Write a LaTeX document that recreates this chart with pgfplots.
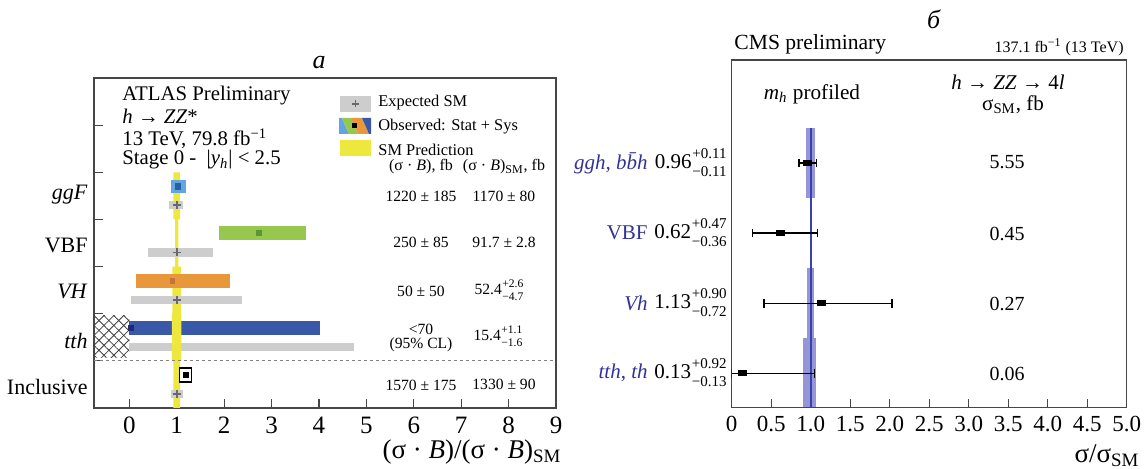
\documentclass[border=0pt]{standalone}
\usepackage{pgfplots}
\pgfplotsset{compat=1.18}
\usepackage{fontspec}
\setmainfont{Liberation Serif}
\usetikzlibrary{patterns.meta}
\definecolor{cGray}{RGB}{205,205,205}
\definecolor{cGrayMk}{RGB}{105,105,105}
\definecolor{cYellow}{RGB}{238,232,62}
\definecolor{cLBlue}{RGB}{100,165,225}
\definecolor{cLBlueMk}{RGB}{40,95,160}
\definecolor{cGreen}{RGB}{150,200,80}
\definecolor{cGreenMk}{RGB}{90,150,50}
\definecolor{cOrange}{RGB}{232,152,58}
\definecolor{cOrangeMk}{RGB}{195,115,60}
\definecolor{cDBlue}{RGB}{58,88,168}
\definecolor{cDBlueMk}{RGB}{30,40,120}
\definecolor{cLine}{RGB}{55,65,175}
\definecolor{cBand}{RGB}{150,150,215}
\definecolor{cText}{RGB}{50,50,150}
\definecolor{cAxis}{RGB}{70,70,70}
\newcommand{\fs}[1]{\fontsize{#1}{#1}\selectfont}
\newcommand{\ud}[3]{#1\kern0.04em\begin{tabular}[c]{@{}l@{}}\fs{7.5}#2\\[-1.5pt]\fs{7.5}#3\end{tabular}}
\newcommand{\uds}[3]{#1\kern0.03em\begin{tabular}[c]{@{}l@{}}\fs{5.8}#2\\[-1.5pt]\fs{5.8}#3\end{tabular}}
\begin{document}
\begin{tikzpicture}
\path[use as bounding box] (0,0) rectangle (574pt,234.5pt);
% ---------------- left panel -----------------
\begin{axis}[
  at={(47pt,30.5pt)}, anchor=south west, scale only axis,
  width=231pt, height=165pt,
  xmin=-0.745, xmax=9, ymin=0, ymax=7,
  axis line style={draw=cAxis, line width=0.6pt},
  xtick={0,...,9}, ytick={1,...,6}, yticklabels={},
  tick align=inside, tick pos=left,
  major tick length=4.5pt,
  tick style={cAxis, line width=0.6pt},
  /pgf/number format/assume math mode=true,
  xticklabel style={font=\fs{12.5}, yshift=-1pt},
]
% hatch
\addplot[draw=none, pattern={Lines[angle=45,distance=3.5pt,line width=0.4pt]}, pattern color=black!75] coordinates {(-0.745,1.08)(0,1.08)(0,1.97)(-0.745,1.97)};
\addplot[draw=none, pattern={Lines[angle=-45,distance=3.5pt,line width=0.4pt]}, pattern color=black!75] coordinates {(-0.745,1.08)(0,1.08)(0,1.97)(-0.745,1.97)};
% tth bars (under yellow)
\addplot[cDBlue, line width=7pt] coordinates {(0.0,1.70)(4.03,1.70)};
\addplot[only marks, mark=square*, mark size=1.2pt, cDBlueMk] coordinates {(0.03,1.70)};
\addplot[cGray, line width=4.2pt] coordinates {(0.0,1.30)(4.73,1.30)};
% SM band
\addplot[fill=cYellow, draw=none] coordinates {
(1.07,5)(1.07,4)(1.035,4)(1.035,3)(1.09,3)(1.09,2)(1.10,2)(1.10,1)(1.07,1)(1.07,0)
(0.93,0)(0.93,1)(0.90,1)(0.90,2)(0.91,2)(0.91,3)(0.965,3)(0.965,4)(0.93,4)(0.93,5)};
% expected bars
\addplot[cGray, line width=4.2pt] coordinates {(0.84,4.31)(1.13,4.31)};
\addplot[cGray, line width=4.2pt] coordinates {(0.40,3.30)(1.76,3.30)};
\addplot[cGray, line width=4.2pt] coordinates {(0.03,2.29)(2.38,2.29)};
\addplot[cGray, line width=4.2pt] coordinates {(0.88,0.30)(1.13,0.30)};
\addplot[only marks, mark=+, mark size=2pt, line width=0.8pt, cGrayMk] coordinates {(1,4.31)(1,3.30)(1,2.29)(1,0.30)};
% observed bars
\addplot[cLBlue, line width=6.5pt] coordinates {(0.88,4.70)(1.20,4.70)};
\addplot[only marks, mark=square*, mark size=1.3pt, cLBlueMk] coordinates {(1.03,4.70)};
\addplot[cGreen, line width=7.2pt] coordinates {(1.89,3.71)(3.72,3.71)};
\addplot[only marks, mark=square*, mark size=1.2pt, cGreenMk] coordinates {(2.73,3.71)};
\addplot[cOrange, line width=6.8pt] coordinates {(0.15,2.70)(2.12,2.70)};
\addplot[only marks, mark=square*, mark size=1.2pt, cOrangeMk] coordinates {(0.91,2.70)};
\addplot[fill=white, draw=black, line width=0.6pt] coordinates {(1.05,0.55)(1.31,0.55)(1.31,0.85)(1.05,0.85)(1.05,0.55)};
\addplot[only marks, mark=square*, mark size=1.3pt, black] coordinates {(1.19,0.70)};
% dashed separator
\addplot[gray, line width=0.5pt, dash pattern=on 1.5pt off 1.5pt] coordinates {(-0.745,1)(9,1)};
\end{axis}
% ---------------- right panel -----------------
\begin{axis}[
  at={(365.85pt,30.85pt)}, anchor=south west, scale only axis,
  width=197.5pt, height=173.65pt,
  xmin=0, xmax=5, ymin=0.514, ymax=5.47,
  axis line style={draw=cAxis, line width=0.6pt},
  xtick={0,0.5,...,5}, xticklabels={0,0.5,1.0,1.5,2.0,2.5,3.0,3.5,4.0,4.5,5.0},
  ytick=\empty,
  tick align=inside, tick pos=left,
  major tick length=4pt,
  tick style={cAxis, line width=0.6pt},
  xticklabel style={font=\fs{11.5}, yshift=-1pt},
]
\addplot[fill=cBand, draw=none] coordinates {(0.935,3.5)(1.06,3.5)(1.06,4.5)(0.935,4.5)};
\addplot[fill=cBand, draw=none] coordinates {(0.95,1.5)(1.04,1.5)(1.04,2.5)(0.95,2.5)};
\addplot[fill=cBand, draw=none] coordinates {(0.90,0.514)(1.07,0.514)(1.07,1.5)(0.90,1.5)};
\addplot[cLine, line width=1.2pt] coordinates {(1,0.514)(1,4.5)};
\addplot[only marks, black, mark=square*, mark size=1.25pt, mark options={xscale=1.6},
  error bars/.cd, x dir=both, x explicit,
  error mark=|,
  error bar style={line width=0.65pt, black},
  error mark options={line width=0.65pt, mark size=2.2pt, black, rotate=0}]
  coordinates {
  (0.96,4) += (0.11,0) -= (0.11,0)
  (0.62,3) += (0.47,0) -= (0.36,0)
  (1.13,2) += (0.90,0) -= (0.72,0)
  (0.13,1) += (0.92,0) -= (0.13,0)
  };
\end{axis}
% ---------------- annotations (pixel coordinates) -----------------
\begin{scope}[shift={(0pt,234.5pt)}, x=0.5pt, y=-0.5pt, every node/.style={inner sep=0pt}]
% left panel
\node[font=\fs{13}] at (319,63) {\textit{a}};
\node[anchor=west, font=\fs{10.4}] at (122,96) {ATLAS Preliminary};
\node[anchor=west, font=\fs{10.4}] at (122,116.5) {\textit{h} → \textit{ZZ}*};
\node[anchor=west, font=\fs{10.4}] at (122,139) {13 TeV, 79.8 fb\textsuperscript{−1}};
\node[anchor=west, font=\fs{10.4}] at (122,160) {Stage 0 -\ \ |\textit{y}\textsubscript{\textit{h}}| < 2.5};
\node[anchor=east, font=\fs{11}] at (88,195) {\textit{ggF}};
\node[anchor=east, font=\fs{11}] at (88,245) {VBF};
\node[anchor=east, font=\fs{11}] at (88,291) {\textit{VH}};
\node[anchor=east, font=\fs{11}] at (88,341) {\textit{tth}};
\node[anchor=east, font=\fs{11}] at (88,387) {Inclusive};
% legend
\fill[cGray] (340,96) rectangle (371,112);
\draw[cGrayMk, line width=0.8pt] (352,104) -- (359,104) (355.5,100.5) -- (355.5,107.5);
\fill[cLBlue] (339,118) -- (342,118) -- (349,134) -- (339,134) -- cycle;
\fill[cGreen] (342,118) -- (351,118) -- (358,134) -- (349,134) -- cycle;
\fill[cOrange] (351,118) -- (362,118) -- (369,134) -- (358,134) -- cycle;
\fill[cDBlue] (362,118) -- (371,118) -- (371,134) -- (369,134) -- cycle;
\fill[black] (352,123) rectangle (357,128);
\fill[cYellow] (340,140) rectangle (371,156);
\node[anchor=west, font=\fs{8.2}] at (378,103) {Expected SM};
\node[anchor=west, font=\fs{8.2}] at (378,127) {Observed: Stat + Sys};
\node[anchor=west, font=\fs{8.2}] at (378,150) {SM Prediction};
\node[font=\fs{8}] at (421,167) {(σ · \textit{B}), fb};
\node[font=\fs{8}] at (504,167) {(σ · \textit{B})\textsubscript{SM}, fb};
% table
\node[font=\fs{7.8}] at (421,196) {1220 ± 185};
\node[font=\fs{7.8}] at (504,196) {1170 ± 80};
\node[font=\fs{7.8}] at (421,242) {250 ± 85};
\node[font=\fs{7.8}] at (504,242) {91.7 ± 2.8};
\node[font=\fs{7.8}] at (421,291) {50 ± 50};
\node[font=\fs{7.8}] at (499,291) {\uds{52.4}{+2.6}{−4.7}};
\node[font=\fs{7.8}] at (421,329) {<70};
\node[font=\fs{7.8}] at (421,345) {(95\% CL)};
\node[font=\fs{7.8}] at (498,337) {\uds{15.4}{+1.1}{−1.6}};
\node[font=\fs{7.8}] at (421,385) {1570 ± 175};
\node[font=\fs{7.8}] at (504,384) {1330 ± 90};
\node[font=\fs{13.5}] at (472,452) {(σ · \textit{B})/(σ · \textit{B})\textsubscript{SM}};
% right panel
\node[font=\fs{13}] at (934,19) {\textit{б}};
\node[anchor=west, font=\fs{10.8}] at (734,44) {CMS preliminary};
\node[anchor=east, font=\fs{8}] at (1124,47) {137.1 fb\textsuperscript{−1} (13 TeV)};
\node[font=\fs{10.6}] at (812,94) {\textit{m}\textsubscript{\textit{h}} profiled};
\node[font=\fs{10.5}] at (1008,82) {\textit{h} → \textit{ZZ} → 4\textit{l}};
\node[font=\fs{10.5}] at (1013,105) {σ\textsubscript{SM}, fb};
\node[font=\fs{10}] at (1007,162) {5.55};
\node[font=\fs{10}] at (1007,234) {0.45};
\node[font=\fs{10}] at (1007,304) {0.27};
\node[font=\fs{10}] at (1007,374) {0.06};
\node[anchor=east, font=\fs{10.5}, text=cText] at (648,163) {\textit{ggh, b\=bh}};
\node[anchor=east, font=\fs{10.5}, text=cText] at (648,233) {VBF};
\node[anchor=east, font=\fs{10.5}, text=cText] at (648,303) {\textit{Vh}};
\node[anchor=east, font=\fs{10.5}, text=cText] at (648,373) {\textit{tth}, \textit{th}};
\node[anchor=east, font=\fs{10.5}] at (727,163) {\ud{0.96}{+0.11}{−0.11}};
\node[anchor=east, font=\fs{10.5}] at (727,233) {\ud{0.62}{+0.47}{−0.36}};
\node[anchor=east, font=\fs{10.5}] at (727,303) {\ud{1.13}{+0.90}{−0.72}};
\node[anchor=east, font=\fs{10.5}] at (727,373) {\ud{0.13}{+0.92}{−0.13}};
\node[font=\fs{13.5}] at (1107,456) {σ/σ\textsubscript{SM}};
\end{scope}
\end{tikzpicture}
\end{document}
